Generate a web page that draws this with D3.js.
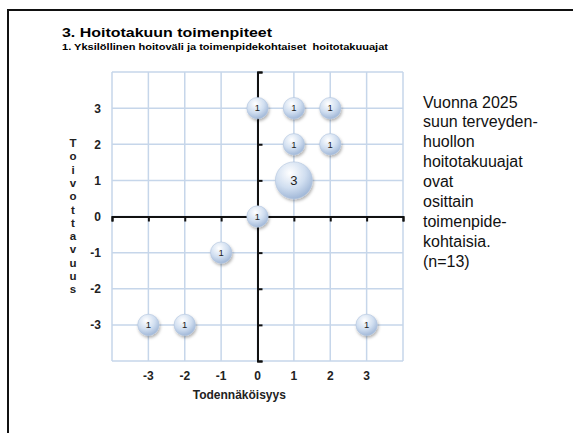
<!DOCTYPE html>
<html><head><meta charset="utf-8">
<script src="https://cdn.jsdelivr.net/npm/d3@7"></script>
<style>body{margin:0;background:#fff}svg{display:block}text{font-family:"Liberation Sans",Arial,sans-serif}</style>
</head><body>
<svg id="c" width="573" height="433"></svg>
<script>
const xVals = [0, 1, 2, 1, 2, 1, 0, -1, -3, -2, 3];
const yVals = [3, 3, 3, 2, 2, 1, 0, -1, -3, -3, -3];
const counts = [1, 1, 1, 1, 1, 3, 1, 1, 1, 1, 1];
const tickLabels = [-3, -2, -1, 0, 1, 2, 3];
const title = "3. Hoitotakuun toimenpiteet";
const subtitle = "1. Yksilöllinen hoitoväli ja toimenpidekohtaiset  hoitotakuuajat";
const xTitle = "Todennäköisyys";
const yTitle = "Toivottavuus";
const note = ["Vuonna 2025", "suun terveyden-", "huollon", "hoitotakuuajat", "ovat", "osittain", "toimenpide-", "kohtaisia.", "(n=13)"];

const svg = d3.select("#c");
const defs = svg.append("defs");
const g1 = defs.append("radialGradient").attr("id","bub").attr("cx","40%").attr("cy","30%").attr("r","75%");
g1.append("stop").attr("offset","0%").attr("stop-color","#ffffff");
g1.append("stop").attr("offset","55%").attr("stop-color","#d0def0");
g1.append("stop").attr("offset","100%").attr("stop-color","#9ab2d4");
const f = defs.append("filter").attr("id","sh").attr("x","-50%").attr("y","-50%").attr("width","200%").attr("height","200%");
f.append("feDropShadow").attr("dx",1).attr("dy",2).attr("stdDeviation",1.5).attr("flood-color","#000").attr("flood-opacity",0.3);

// frame
svg.append("path").attr("d","M8,433 V10 H573").attr("fill","none").attr("stroke","#111").attr("stroke-width",2);

svg.append("text").attr("x",62).attr("y",37).attr("font-size",13).attr("font-weight","bold")
  .attr("textLength",210).attr("lengthAdjust","spacingAndGlyphs").text(title);
svg.append("text").attr("x",62).attr("y",50).attr("font-size",9).attr("font-weight","bold")
  .attr("xml:space","preserve").style("white-space","pre")
  .attr("textLength",326).attr("lengthAdjust","spacingAndGlyphs").text(subtitle);

const x = d3.scaleLinear().domain([-4,4]).range([112,403]);
const y = d3.scaleLinear().domain([-4,4]).range([361,72]);
const grid = d3.range(-4,5);

svg.append("g").selectAll("line").data(grid).join("line")
  .attr("x1",d=>x(d)).attr("x2",d=>x(d)).attr("y1",y(-4)).attr("y2",y(4))
  .attr("stroke","#c6d6ea").attr("stroke-width",1.5);
svg.append("g").selectAll("line").data(grid).join("line")
  .attr("y1",d=>y(d)).attr("y2",d=>y(d)).attr("x1",x(-4)).attr("x2",x(4))
  .attr("stroke","#c6d6ea").attr("stroke-width",1.5);

// axes through origin
const xAx = svg.append("g").attr("transform",`translate(0,${y(0)})`)
  .call(d3.axisBottom(x).tickValues(grid).tickSize(5).tickFormat(""));
xAx.select(".domain").attr("stroke","#111").attr("stroke-width",2);
xAx.selectAll(".tick line").attr("stroke","#111").attr("stroke-width",2);
const yAx = svg.append("g").attr("transform",`translate(${x(0)},0)`)
  .call(d3.axisRight(y).tickValues(grid).tickSize(5).tickFormat(""));
yAx.select(".domain").attr("stroke","#111").attr("stroke-width",2);
yAx.selectAll(".tick line").attr("stroke","#111").attr("stroke-width",2);

// tick labels
svg.append("g").selectAll("text").data(tickLabels).join("text")
  .attr("x",d=>x(d)).attr("y",380).attr("text-anchor","middle")
  .attr("font-size",12).attr("font-weight","bold").attr("fill","#222").text(d=>d);
svg.append("g").selectAll("text").data(tickLabels).join("text")
  .attr("x",101).attr("y",d=>y(d)+4.5).attr("text-anchor","end")
  .attr("font-size",12).attr("font-weight","bold").attr("fill","#222").text(d=>d);

svg.append("text").attr("x",x(-0.5)).attr("y",399).attr("text-anchor","middle")
  .attr("font-size",12).attr("font-weight","bold").attr("fill","#222").text(xTitle);
svg.append("text").attr("x",73).attr("font-size",11.5).attr("font-weight","bold").attr("fill","#222")
  .attr("text-anchor","middle")
  .selectAll("tspan").data(yTitle.split("")).join("tspan")
  .attr("x",73).attr("y",(d,i)=>147+i*13.3).text(d=>d);

// bubbles
const r = d3.scaleSqrt().domain([0,3]).range([0,18.5]);
const data = xVals.map((v,i)=>({x:v,y:yVals[i],n:counts[i]}));
const bg = svg.append("g").selectAll("g").data(data).join("g")
  .attr("transform",d=>`translate(${x(d.x)},${y(d.y)})`);
bg.append("circle").attr("r",d=>r(d.n)).attr("fill","url(#bub)").attr("stroke","#b3c6df").attr("stroke-width",0.6).attr("filter","url(#sh)");
bg.append("text").attr("text-anchor","middle").attr("dy","0.35em")
  .attr("font-size",d=>d.n>1?13:9.5).attr("fill","#222").text(d=>d.n);

// note
svg.append("text").attr("font-size",16).attr("fill","#111")
  .selectAll("tspan").data(note).join("tspan")
  .attr("x",423).attr("y",(d,i)=>107.5+i*19.9).text(d=>d);
</script>
</body></html>
